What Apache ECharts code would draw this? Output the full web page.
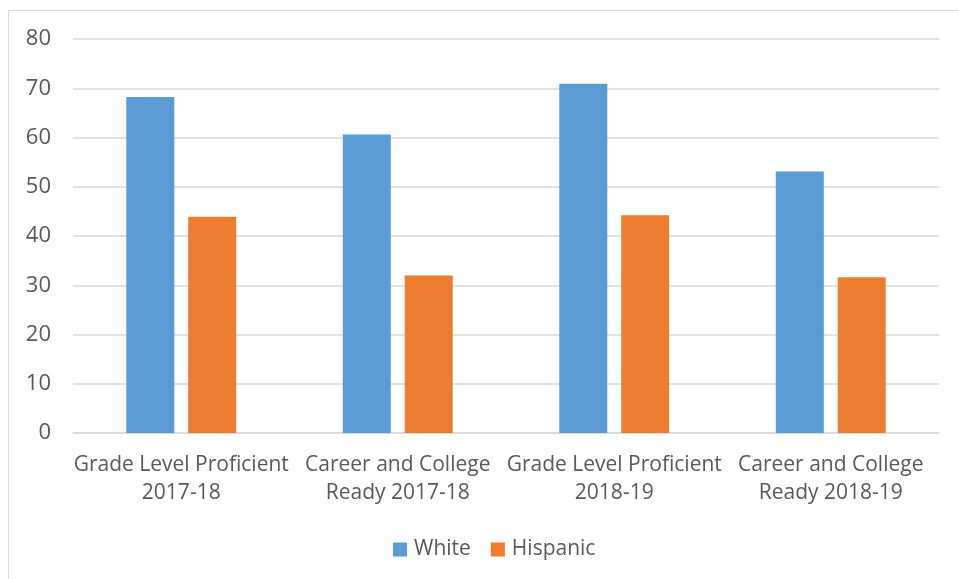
<!DOCTYPE html>
<html>
<head>
<meta charset="utf-8">
<style>
  html, body { margin: 0; padding: 0; background: #ffffff; }
  #chart { width: 959px; height: 579px; }
</style>
<script src="https://cdn.jsdelivr.net/npm/echarts@6/dist/echarts.min.js"></script>
</head>
<body>
<div id="chart"></div>
<script>
// Categories and series values
const categories = [
  'Grade Level Proficient\n2017-18',
  'Career and College\nReady 2017-18',
  'Grade Level Proficient\n2018-19',
  'Career and College\nReady 2018-19'
];
const whiteValues = [68.2, 60.6, 70.9, 53.1];
const hispanicValues = [43.9, 32.0, 44.2, 31.6];
const yTicks = [0, 10, 20, 30, 40, 50, 60, 70, 80];

const FONT = 'Open Sans';
const TEXT = '#595959';

const chart = echarts.init(document.getElementById('chart'), null, { renderer: 'canvas' });

chart.setOption({
  animation: false,
  backgroundColor: '#ffffff',
  textStyle: { fontFamily: FONT },
  graphic: [{
    type: 'rect',
    silent: true,
    shape: { x: 8.5, y: 10.5, width: 970, height: 600 },
    style: { fill: 'none', stroke: '#d9d9d9', lineWidth: 1 }
  }],
  grid: { left: 73, right: 20, top: 39, bottom: 146, containLabel: false },
  legend: {
    bottom: 19,
    left: 393,
    padding: 0,
    itemWidth: 14,
    itemHeight: 14,
    itemGap: 20,
    icon: 'rect',
    textStyle: { color: TEXT, fontSize: 21, fontFamily: FONT, padding: [0, 0, 0, 2] },
    data: ['White', 'Hispanic']
  },
  xAxis: {
    type: 'category',
    data: categories,
    axisLine: { show: true, lineStyle: { color: '#d9d9d9', width: 1.5 } },
    axisTick: { show: false },
    axisLabel: {
      color: TEXT,
      fontSize: 21,
      fontFamily: FONT,
      lineHeight: 28,
      margin: 18,
      interval: 0
    }
  },
  yAxis: {
    type: 'value',
    min: yTicks[0],
    max: yTicks[yTicks.length - 1],
    interval: 10,
    axisLine: { show: false },
    axisTick: { show: false },
    splitLine: { lineStyle: { color: '#d9d9d9', width: 1.5 } },
    axisLabel: { color: TEXT, fontSize: 22, fontFamily: FONT, margin: 22 }
  },
  series: [
    {
      name: 'White',
      type: 'bar',
      data: whiteValues,
      barWidth: 48,
      barGap: '29%',
      itemStyle: { color: '#5b9bd5' }
    },
    {
      name: 'Hispanic',
      type: 'bar',
      data: hispanicValues,
      barWidth: 48,
      itemStyle: { color: '#ed7d31' }
    }
  ]
});
</script>
</body>
</html>
